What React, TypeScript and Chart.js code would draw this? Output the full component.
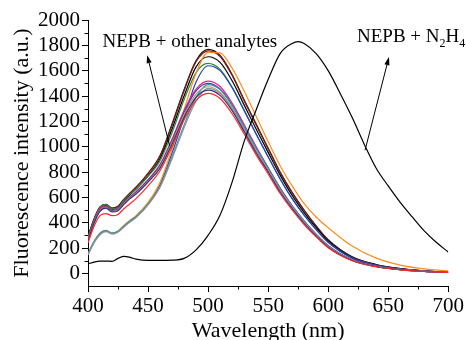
import React, { useEffect, useRef } from 'react';
import { Chart, registerables } from 'chart.js';

Chart.register(...registerables);

// ---- data ----
const WAVELENGTHS = [400, 405, 410, 415, 420, 425, 430, 435, 440, 450, 460, 470, 480, 490, 500, 510, 520, 530, 540, 550, 560, 570, 580, 590, 600, 620, 640, 660, 680, 700];

const N2H4_WAVELENGTHS = [400, 405, 410, 415, 420, 425, 430, 435, 440, 450, 460, 470, 480, 490, 500, 510, 520, 530, 540, 550, 560, 570, 575, 580, 590, 600, 610, 620, 630, 640, 650, 660, 670, 680, 690, 700];
const NEPB_N2H4 = [75, 88, 96, 97, 95, 118, 134, 126, 112, 102, 102, 104, 118, 185, 300, 460, 720, 1040, 1290, 1530, 1735, 1815, 1829, 1815, 1735, 1600, 1420, 1230, 1020, 830, 690, 560, 445, 335, 245, 168];

const A_BLACK1 = [290, 430, 525, 545, 515, 530, 585, 635, 680, 790, 930, 1180, 1450, 1680, 1768, 1720, 1570, 1370, 1180, 990, 800, 640, 500, 375, 265, 130, 70, 38, 20, 10];
const A_DARKRED = [285, 428, 522, 543, 513, 528, 583, 632, 678, 788, 925, 1170, 1440, 1670, 1757, 1712, 1562, 1362, 1172, 982, 795, 635, 496, 372, 262, 128, 68, 37, 19, 10];
const A_BLACK2 = [270, 415, 510, 535, 505, 520, 570, 620, 665, 770, 905, 1140, 1400, 1630, 1710, 1665, 1520, 1330, 1140, 955, 775, 615, 480, 360, 255, 125, 66, 36, 19, 9];
const A_GREEN = [280, 420, 520, 542, 510, 520, 575, 625, 665, 765, 890, 1110, 1370, 1585, 1657, 1610, 1470, 1290, 1100, 920, 745, 590, 460, 345, 245, 120, 63, 34, 18, 9];
const A_BLUE = [150, 245, 312, 335, 315, 330, 372, 412, 445, 545, 700, 950, 1230, 1510, 1639, 1600, 1465, 1285, 1100, 920, 745, 590, 460, 345, 245, 120, 63, 34, 18, 9];
const A_ORANGE = [150, 250, 318, 340, 318, 335, 380, 420, 455, 560, 720, 980, 1290, 1580, 1745, 1740, 1620, 1440, 1240, 1040, 850, 690, 550, 445, 360, 215, 120, 65, 35, 18];
const A_MAGENTA = [275, 410, 510, 530, 500, 510, 560, 605, 645, 740, 860, 1060, 1285, 1455, 1518, 1475, 1345, 1175, 1000, 835, 675, 535, 415, 310, 220, 108, 57, 31, 17, 8];
const A_PURPLE = [265, 405, 500, 525, 495, 505, 555, 600, 640, 735, 850, 1050, 1270, 1440, 1500, 1455, 1330, 1160, 990, 830, 670, 530, 410, 305, 215, 105, 55, 30, 16, 8];
const A_TEAL = [155, 250, 315, 340, 318, 332, 375, 415, 448, 548, 690, 920, 1170, 1390, 1490, 1450, 1325, 1160, 990, 830, 670, 530, 410, 305, 215, 105, 55, 30, 16, 8];
const A_OLIVE = [260, 400, 495, 520, 490, 500, 550, 595, 630, 725, 840, 1035, 1250, 1415, 1473, 1430, 1305, 1140, 970, 815, 655, 520, 400, 300, 210, 103, 54, 29, 16, 8];
const A_GREY = [145, 240, 305, 330, 310, 325, 365, 405, 440, 540, 680, 905, 1150, 1360, 1460, 1420, 1300, 1135, 965, 810, 655, 520, 400, 300, 210, 103, 54, 29, 16, 8];
const A_NAVY = [255, 395, 490, 515, 485, 495, 545, 590, 625, 720, 830, 1020, 1230, 1390, 1447, 1405, 1285, 1120, 950, 800, 642, 510, 393, 294, 206, 101, 53, 29, 15, 8];
const A_RED = [240, 370, 455, 472, 455, 465, 510, 550, 590, 690, 810, 1000, 1210, 1365, 1420, 1380, 1260, 1100, 935, 785, 630, 500, 385, 288, 202, 99, 52, 28, 15, 7];

const ANALYTES = [A_RED, A_NAVY, A_GREY, A_OLIVE, A_TEAL, A_PURPLE, A_MAGENTA, A_ORANGE, A_BLUE, A_GREEN, A_BLACK2, A_DARKRED, A_BLACK1];
const ANALYTE_COLORS = ['#ff2a2a', '#303080', '#9a8a9a', '#a0a060', '#20a0a0', '#7030a0', '#e0209a', '#ff8c1a', '#2040c0', '#2e8b3e', '#000000', '#8b1a1a', '#111111'];

const X_TICKS = [400, 450, 500, 550, 600, 650, 700];
const X_MINOR = [425, 475, 525, 575, 625, 675];
const Y_TICKS = [0, 200, 400, 600, 800, 1000, 1200, 1400, 1600, 1800, 2000];
const Y_MINOR = [100, 300, 500, 700, 900, 1100, 1300, 1500, 1700, 1900];

// annotation anchors in data units
const LABEL_OTHERS = { x: 412, y: 1787, text: 'NEPB + other analytes' };
const LABEL_N2H4 = { x: 624, y: 1826 };
const ARROW_OTHERS = { from: [468, 1005], to: [449.3, 1722] };
const ARROW_N2H4 = { from: [630.7, 972], to: [650.6, 1707] };

const SERIF = '"Liberation Serif", "Times New Roman", serif';

function drawArrow(ctx: CanvasRenderingContext2D, x1: number, y1: number, x2: number, y2: number) {
  const ang = Math.atan2(y2 - y1, x2 - x1);
  const len = 8;
  const half = 2.6;
  const bx = x2 - len * Math.cos(ang);
  const by = y2 - len * Math.sin(ang);
  ctx.beginPath();
  ctx.moveTo(x1, y1);
  ctx.lineTo(bx, by);
  ctx.stroke();
  ctx.beginPath();
  ctx.moveTo(x2, y2);
  ctx.lineTo(bx + half * Math.sin(ang), by - half * Math.cos(ang));
  ctx.lineTo(bx - half * Math.sin(ang), by + half * Math.cos(ang));
  ctx.closePath();
  ctx.fill();
}

const extrasPlugin = {
  id: 'extras',
  afterDraw(chart: any) {
    const ctx: CanvasRenderingContext2D = chart.ctx;
    const xs = chart.scales.x;
    const ys = chart.scales.y;
    const area = chart.chartArea;
    ctx.save();
    ctx.strokeStyle = '#000';
    ctx.fillStyle = '#000';
    ctx.lineWidth = 1;
    X_MINOR.forEach((v) => {
      const px = Math.round(xs.getPixelForValue(v)) + 0.5;
      ctx.beginPath();
      ctx.moveTo(px, area.bottom);
      ctx.lineTo(px, area.bottom + 3.5);
      ctx.stroke();
    });
    Y_MINOR.forEach((v) => {
      const py = Math.round(ys.getPixelForValue(v)) + 0.5;
      ctx.beginPath();
      ctx.moveTo(area.left, py);
      ctx.lineTo(area.left - 3.5, py);
      ctx.stroke();
    });
    [ARROW_OTHERS, ARROW_N2H4].forEach((a) => {
      drawArrow(
        ctx,
        xs.getPixelForValue(a.from[0]), ys.getPixelForValue(a.from[1]),
        xs.getPixelForValue(a.to[0]), ys.getPixelForValue(a.to[1])
      );
    });
    ctx.textBaseline = 'alphabetic';
    ctx.textAlign = 'left';
    ctx.font = `19px ${SERIF}`;
    ctx.fillText(LABEL_OTHERS.text, xs.getPixelForValue(LABEL_OTHERS.x), ys.getPixelForValue(LABEL_OTHERS.y));
    let x = xs.getPixelForValue(LABEL_N2H4.x);
    const y = ys.getPixelForValue(LABEL_N2H4.y);
    const parts: [string, boolean][] = [['NEPB + N', false], ['2', true], ['H', false], ['4', true]];
    parts.forEach(([t, sub]) => {
      ctx.font = sub ? `12px ${SERIF}` : `19px ${SERIF}`;
      ctx.fillText(t, x, sub ? y + 5 : y);
      x += ctx.measureText(t).width;
    });
    ctx.restore();
  },
};

export default function App() {
  const ref = useRef<HTMLCanvasElement | null>(null);
  useEffect(() => {
    if (!ref.current) return;
    const datasets: any[] = [
      {
        label: 'NEPB + N2H4',
        data: N2H4_WAVELENGTHS.map((w, i) => ({ x: w, y: NEPB_N2H4[i] })),
        borderColor: '#000',
        borderWidth: 1.2,
      },
      ...ANALYTES.map((arr, k) => ({
        label: 'NEPB + analyte ' + (k + 1),
        data: WAVELENGTHS.map((w, i) => ({ x: w, y: arr[i] })),
        borderColor: ANALYTE_COLORS[k],
        borderWidth: 1.2,
      })),
    ];
    const chart = new Chart(ref.current, {
      type: 'line',
      data: { datasets },
      options: {
        animation: false,
        responsive: false,
        layout: { padding: { left: 0, right: 16, top: 20, bottom: 0 } },
        elements: {
          point: { radius: 0, hoverRadius: 0 },
          line: { cubicInterpolationMode: 'monotone', fill: false },
        },
        plugins: { legend: { display: false }, tooltip: { enabled: false } },
        scales: {
          x: {
            type: 'linear',
            min: 400,
            max: 700,
            afterFit: (s: any) => { s.height = 54; },
            afterBuildTicks: (s: any) => { s.ticks = X_TICKS.map((v) => ({ value: v })); },
            grid: { drawOnChartArea: false, drawTicks: true, tickLength: 6, color: '#000', lineWidth: 1 },
            border: { display: true, color: '#000', width: 1 },
            ticks: { color: '#000', font: { family: SERIF, size: 21 }, padding: 2, maxRotation: 0, autoSkip: false, callback: (v: any) => String(v) },
            title: { display: true, text: 'Wavelength (nm)', color: '#000', font: { family: SERIF, size: 22 }, padding: { top: 0, bottom: -4.7 } },
          },
          y: {
            type: 'linear',
            min: -100,
            max: 2000,
            afterFit: (s: any) => { s.width = 88; },
            afterBuildTicks: (s: any) => { s.ticks = Y_TICKS.map((v) => ({ value: v })); },
            grid: { drawOnChartArea: false, drawTicks: true, tickLength: 6, color: '#000', lineWidth: 1 },
            border: { display: true, color: '#000', width: 1 },
            ticks: { color: '#000', font: { family: SERIF, size: 21 }, padding: 2, autoSkip: false, callback: (v: any) => String(v) },
            title: { display: true, text: 'Fluorescence intensity (a.u.)', color: '#000', font: { family: SERIF, size: 22 }, padding: { top: 9, bottom: 0 } },
          },
        },
      },
      plugins: [extrasPlugin],
    } as any);
    return () => chart.destroy();
  }, []);
  return (
    <div style={{ position: 'absolute', left: 0, top: 0, width: 466, height: 340, background: '#fff' }}>
      <canvas ref={ref} width={466} height={340} />
    </div>
  );
}
